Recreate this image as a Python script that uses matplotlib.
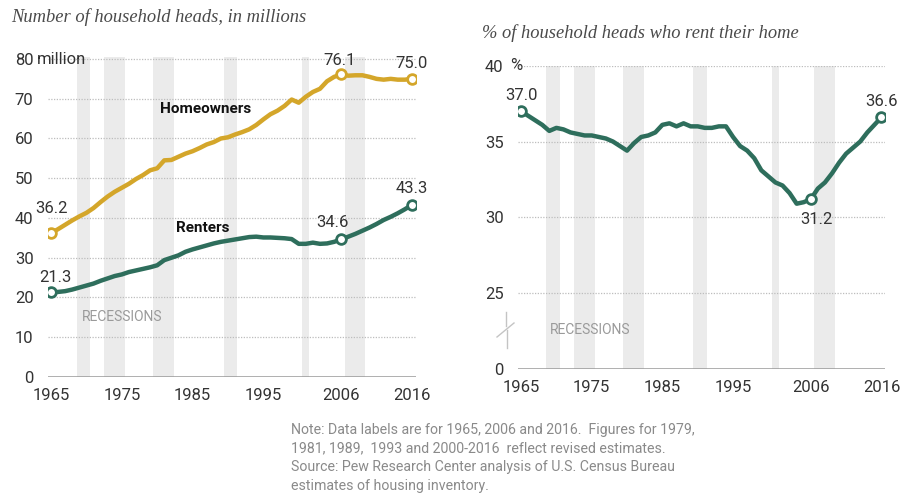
import matplotlib
matplotlib.use("Agg")
import matplotlib.pyplot as plt
from matplotlib.lines import Line2D

years = list(range(1965, 2017))

homeowners = [36.2, 37.2, 38.3, 39.4, 40.4, 41.3, 42.5, 44.0, 45.4, 46.6,
              47.6, 48.6, 49.8, 50.8, 52.0, 52.5, 54.5, 54.6, 55.4, 56.2,
              56.8, 57.6, 58.5, 59.1, 60.0, 60.3, 61.0, 61.6, 62.3, 63.4,
              64.8, 66.1, 67.0, 68.2, 69.8, 69.0, 70.5, 71.7, 72.5, 74.4,
              75.5, 76.1, 75.8, 75.9, 75.9, 75.5, 75.0, 74.8, 75.0, 74.8,
              74.8, 75.0]

renters = [21.3, 21.4, 21.6, 22.0, 22.5, 23.0, 23.5, 24.2, 24.8, 25.4,
           25.8, 26.4, 26.8, 27.2, 27.6, 28.1, 29.4, 30.0, 30.6, 31.5,
           32.1, 32.6, 33.1, 33.6, 34.0, 34.3, 34.6, 34.9, 35.2, 35.3,
           35.1, 35.1, 35.0, 34.9, 34.7, 33.5, 33.5, 33.8, 33.5, 33.6,
           34.0, 34.6, 35.3, 36.0, 36.8, 37.6, 38.5, 39.5, 40.3, 41.2,
           42.2, 43.3]

rent_share = [37.0, 36.7, 36.4, 36.1, 35.7, 35.9, 35.8, 35.6, 35.5, 35.4,
              35.4, 35.3, 35.2, 35.0, 34.7, 34.4, 34.9, 35.3, 35.4, 35.6,
              36.1, 36.2, 36.0, 36.2, 36.0, 36.0, 35.9, 35.9, 36.0, 36.0,
              35.3, 34.7, 34.4, 33.9, 33.1, 32.7, 32.3, 32.1, 31.6, 30.9,
              31.0, 31.2, 31.9, 32.3, 32.9, 33.6, 34.2, 34.6, 35.0, 35.6,
              36.1, 36.6]

recessions = [(1968.6, 1970.5), (1972.5, 1975.5), (1979.4, 1982.4),
              (1989.4, 1991.3), (2000.5, 2001.5), (2006.5, 2009.4)]

labeled_years = [1965, 2006, 2016]
xtick_years = [1965, 1975, 1985, 1995, 2006, 2016]
left_yticks = [0, 10, 20, 30, 40, 50, 60, 70, 80]
right_yticks = [20, 25, 30, 35, 40]
right_yticklabels = ["0", "25", "30", "35", "40"]

GOLD = "#D4A62A"
GREEN = "#2E6E5C"
BAND = "#EBEBEB"
GRID = "#BDBDBD"
TXT = "#333333"
FONT = "Roboto"
TICK_SIZE = 12

W, H = 901, 493
fig = plt.figure(figsize=(W / 100, H / 100), dpi=100)
plt.rcParams["font.family"] = FONT


def fx(px):
    return px / W


def fy(py):
    return 1 - py / H


def axes_px(left, top, right, bottom):
    return fig.add_axes([fx(left), fy(bottom), (right - left) / W, (bottom - top) / H])


def style_axes(ax, yticks, yticklabels, ylim, gridlines):
    ax.set_xlim(1964.5, 2016.5)
    ax.set_ylim(*ylim)
    for s in ax.spines.values():
        s.set_visible(False)
    for g in gridlines:
        ax.axhline(g, color=GRID, lw=0.9, ls=(0, (1, 1.2)), zorder=1)
    ax.axhline(ylim[0], color="#9A9A9A", lw=1.1, zorder=2)
    for a, b in recessions:
        ax.axvspan(a, b, color=BAND, lw=0, zorder=0)
    ax.set_xticks(xtick_years)
    ax.set_xticklabels([str(y) for y in xtick_years])
    ax.set_yticks(yticks)
    ax.set_yticklabels(yticklabels)
    ax.tick_params(axis="both", length=0, labelsize=TICK_SIZE, labelcolor=TXT)
    ax.tick_params(axis="x", pad=8)
    ax.tick_params(axis="y", pad=10)
    ax.patch.set_alpha(0)


def label_at(ax, x, y, text, dy):
    ax.annotate(text, (x, y), xytext=(0, dy), textcoords="offset points",
                ha="center", va="center", fontsize=TICK_SIZE, color=TXT, zorder=6)


# ---- Left panel: household heads by tenure ----
axL = axes_px(47.5, 57, 415.5, 377)
style_axes(axL, left_yticks, [str(v) for v in left_yticks], (0, 80.5),
           left_yticks[1:])
axL.plot(years, homeowners, color=GOLD, lw=3.2, solid_capstyle="round",
         solid_joinstyle="round", zorder=4)
axL.plot(years, renters, color=GREEN, lw=3.2, solid_capstyle="round",
         solid_joinstyle="round", zorder=4)
for series, color in ((homeowners, GOLD), (renters, GREEN)):
    xs = [y for y in years if y in labeled_years]
    vs = [series[years.index(y)] for y in xs]
    axL.plot(xs, vs, ls="none", marker="o", ms=7, mew=2, mfc="white",
             mec=color, zorder=5)

label_at(axL, 1965, homeowners[0], f"{homeowners[0]:.1f}", 18)
label_at(axL, 2005.7, homeowners[years.index(2006)], "76.1", 10)
label_at(axL, 2016, homeowners[-1], f"{homeowners[-1]:.1f}", 11)
label_at(axL, 1965.6, renters[0], f"{renters[0]:.1f}", 11)
label_at(axL, 2004.7, renters[years.index(2006)], f"{renters[years.index(2006)]:.1f}", 12.5)
label_at(axL, 2016, renters[-1], f"{renters[-1]:.1f}", 12)

axL.text(1986.9, 67.3, "Homeowners", ha="center", va="center",
         fontsize=11, fontweight="bold", color="#111111", zorder=6)
axL.text(1986.4, 37.5, "Renters", ha="center", va="center",
         fontsize=11, fontweight="bold", color="#111111", zorder=6)
axL.text(1969.3, 15.2, "RECESSIONS", ha="left", va="center",
         fontsize=10, color="#9A9A9A", zorder=6)
fig.text(fx(37), fy(60), "million", ha="left", va="center",
         fontsize=TICK_SIZE, color=TXT)

# ---- Right panel: share of household heads who rent ----
axR = axes_px(517.5, 65.7, 885, 369)
style_axes(axR, right_yticks, right_yticklabels, (20, 40), right_yticks[1:])
axR.plot(years, rent_share, color=GREEN, lw=3.2, solid_capstyle="round",
         solid_joinstyle="round", zorder=4)
xs = labeled_years
vs = [rent_share[years.index(y)] for y in xs]
axR.plot(xs, vs, ls="none", marker="o", ms=7, mew=2, mfc="white",
         mec=GREEN, zorder=5)
label_at(axR, 1965, rent_share[0], f"{rent_share[0]:.1f}", 11)
label_at(axR, 2006.8, rent_share[years.index(2006)], "31.2", -15)
label_at(axR, 2016, rent_share[-1], f"{rent_share[-1]:.1f}", 11)
axR.text(1969.1, 22.6, "RECESSIONS", ha="left", va="center",
         fontsize=10, color="#9A9A9A", zorder=6)
fig.text(fx(510), fy(66), "%", ha="left", va="center",
         fontsize=TICK_SIZE, color=TXT)

# axis break mark on the right panel's value axis
brk = dict(color="#C4C4C4", lw=1.0, transform=fig.transFigure)
fig.add_artist(Line2D([fx(505.5), fx(505.5)], [fy(312), fy(326)], **brk))
fig.add_artist(Line2D([fx(506.5), fx(506.5)], [fy(330), fy(348)], **brk))
fig.add_artist(Line2D([fx(497), fx(514)], [fy(337), fy(323)], **brk))

# ---- Titles ----
fig.text(fx(11), fy(17), "Number of household heads, in millions",
         ha="left", va="center", fontsize=13.3, style="italic",
         family="Liberation Serif", color="#4A4A4A")
fig.text(fx(482), fy(33), "% of household heads who rent their home",
         ha="left", va="center", fontsize=13.3, style="italic",
         family="Liberation Serif", color="#4A4A4A")

# ---- Note ----
note = ("Note: Data labels are for 1965, 2006 and 2016.  Figures for 1979,\n"
        "1981, 1989,  1993 and 2000-2016  reflect revised estimates.\n"
        "Source: Pew Research Center analysis of U.S. Census Bureau\n"
        "estimates of housing inventory.")
fig.text(fx(291), fy(423), note, ha="left", va="top", fontsize=10.2,
         color="#8A8A8A", linespacing=1.42)

fig.savefig("out.png", dpi=100)
